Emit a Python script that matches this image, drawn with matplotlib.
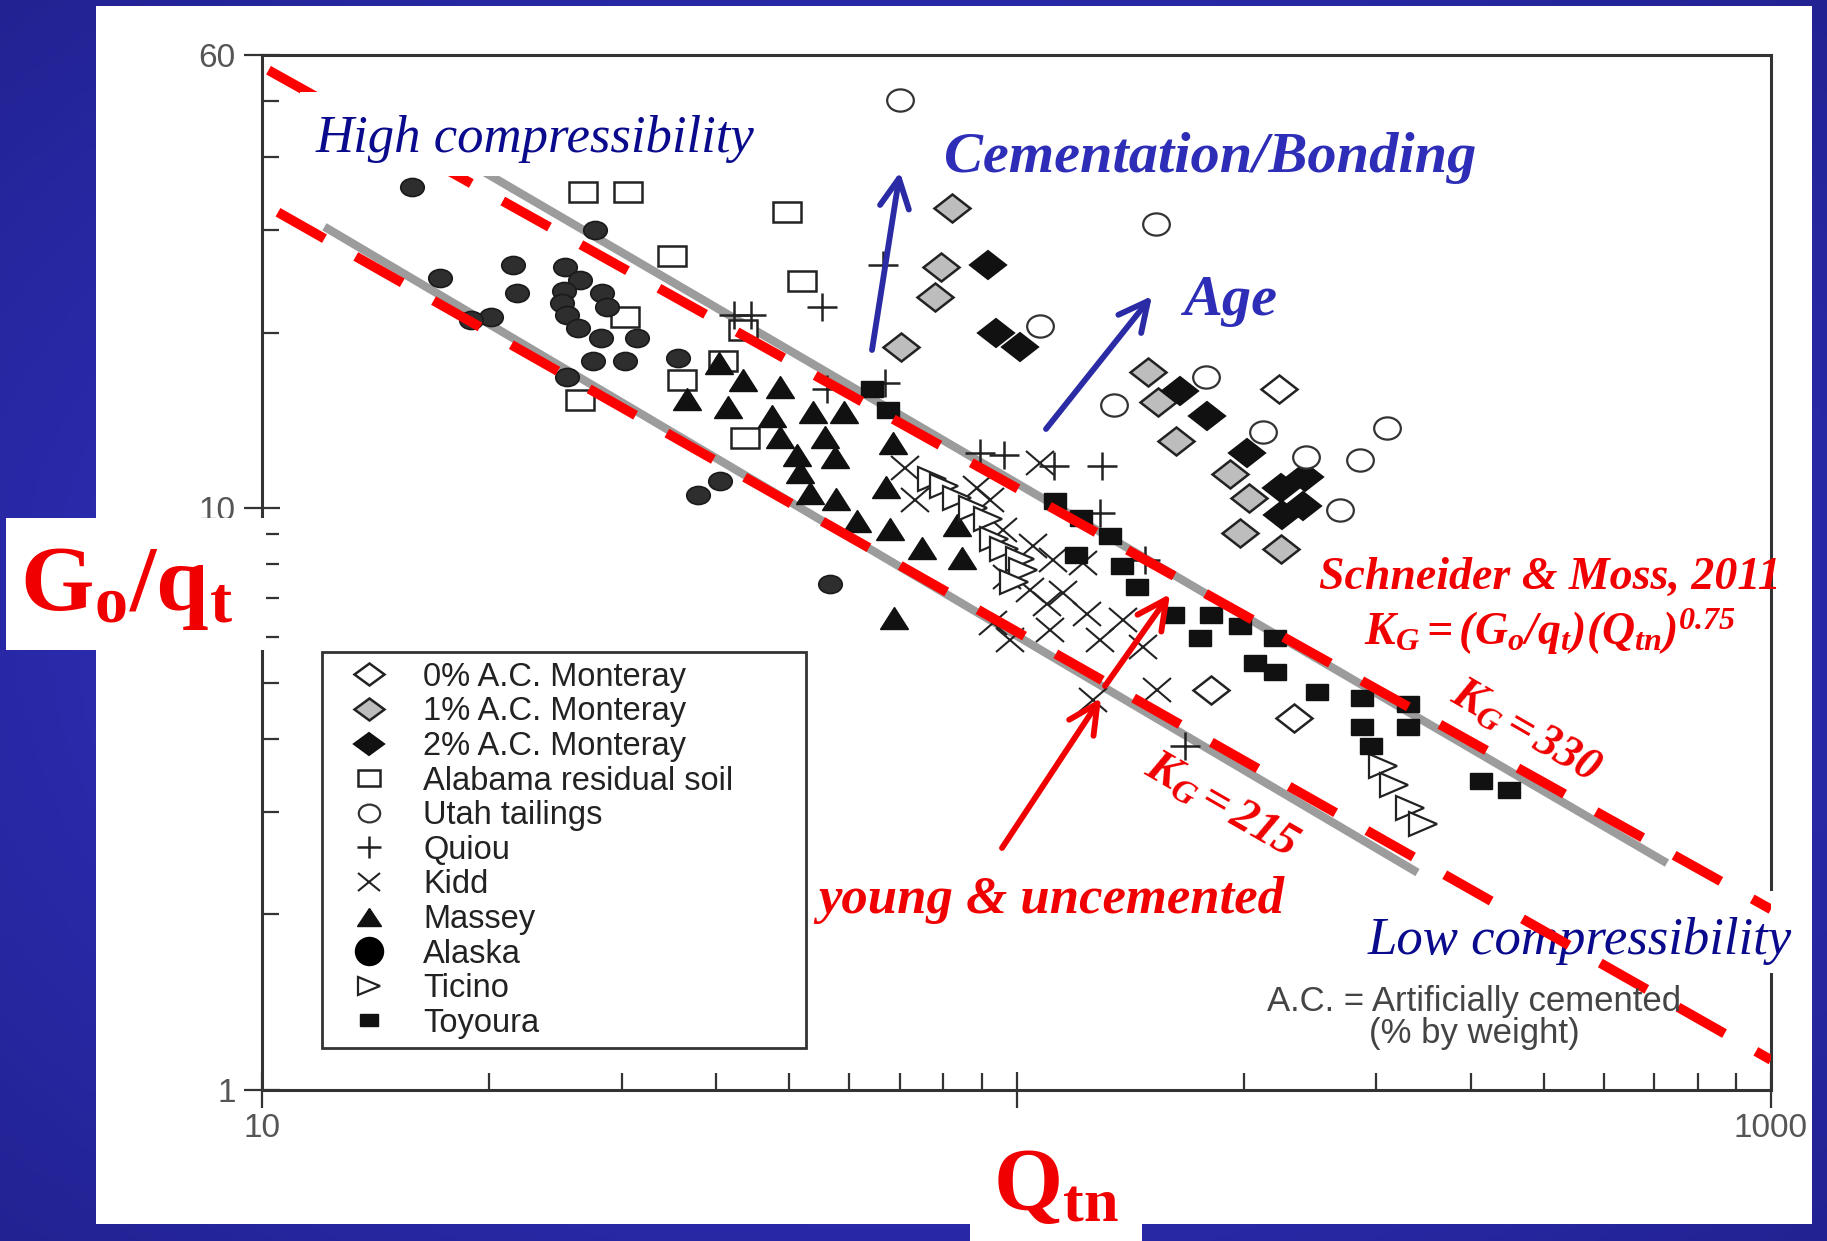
import numpy as np
import matplotlib
matplotlib.use("Agg")
import matplotlib.pyplot as plt
from matplotlib.lines import Line2D
from matplotlib.markers import MarkerStyle
from matplotlib.patches import Rectangle
from matplotlib.transforms import Affine2D
from matplotlib.ticker import LogLocator, NullFormatter

plt.rcParams['font.family'] = 'Liberation Sans'
plt.rcParams['mathtext.fontset'] = 'custom'
plt.rcParams['mathtext.rm'] = 'Liberation Serif'
plt.rcParams['mathtext.it'] = 'Liberation Serif:italic'
plt.rcParams['mathtext.bf'] = 'Liberation Serif:bold'
plt.rcParams['mathtext.bfit'] = 'Liberation Serif:italic:bold'

# ---- data: Qtn (x) and Go/qt (y) ----
ac0_q = [223, 181, 233]
ac0_g = [16.0, 4.86, 4.35]

ac1_q = [82.1, 79.5, 78.0, 70.2, 149.4, 154, 162.5, 191.9, 203, 198, 224]
ac1_g = [32.8, 25.9, 23.0, 18.9, 17.1, 15.2, 13.0, 11.45, 10.4, 9.05, 8.5]

ac2_q = [91.6, 94.0, 101, 164.7, 179, 202, 224, 241, 225, 240]
ac2_g = [26.1, 20.0, 18.9, 15.9, 14.35, 12.4, 10.8, 11.3, 9.7, 10.05]

alabama_q = [26.6, 30.6, 49.6, 35.0, 52.0, 30.3, 43.4, 40.8, 36.0, 26.4, 43.7]
alabama_g = [34.9, 34.9, 32.2, 27.1, 24.5, 21.3, 20.2, 17.9, 16.6, 15.3, 13.2]

utah_q = [70.1, 153, 107.4, 134.6, 178.3, 212, 242, 285, 310, 268]
utah_g = [50.2, 30.7, 20.5, 15.0, 16.8, 13.5, 12.2, 12.1, 13.7, 9.9]

quiou_q = [44.5, 42.2, 55.3, 66.6, 56.1, 67.0, 89.4, 96.3, 112, 130, 129, 148, 167]
quiou_g = [21.4, 21.4, 22.1, 26.1, 16.0, 16.4, 12.4, 12.3, 11.8, 11.8, 9.8, 8.13, 3.9]

kidd_q = [71.2, 73.3, 88.6, 92.2, 96.0, 105.2, 111.8, 122.5, 97.2, 104.2, 109.8,
          115.2, 124, 138.5, 147.3, 129, 110.8, 93, 98, 153.6, 126.4, 107.4]
kidd_g = [11.7, 10.3, 10.8, 10.3, 9.15, 8.6, 8.13, 8.03, 7.6, 7.22, 6.82,
          7.13, 6.56, 6.41, 5.76, 5.92, 6.16, 6.34, 5.92, 4.86, 4.67, 11.95]

massey_q = [40.3, 43.4, 48.6, 36.6, 41.4, 47.4, 53.7, 59.0, 48.6, 55.7, 51.2, 57.5,
            51.6, 53.2, 57.7, 61.5, 68.0, 68.6, 67.2, 83.4, 75.0, 84.7, 68.9]
massey_g = [17.7, 16.6, 16.1, 15.4, 14.9, 14.4, 14.6, 14.6, 13.25, 13.25, 12.3, 12.2,
            11.5, 10.6, 10.35, 9.5, 9.2, 12.9, 10.85, 9.33, 8.52, 8.2, 6.46]

alaska_q = [15.8, 27.6, 17.2, 21.5, 21.8, 20.1, 18.9, 25.2, 26.4, 25.1, 25.0, 25.4,
            26.2, 28.2, 28.7, 28.1, 31.4, 27.5, 30.3, 25.4, 35.6, 40.5, 37.8, 56.6]
alaska_g = [35.6, 30.0, 24.8, 26.1, 23.4, 21.3, 21.0, 25.9, 24.6, 23.6, 22.5, 21.4,
            20.4, 23.4, 22.1, 19.6, 19.6, 17.9, 17.9, 16.8, 18.1, 11.1, 10.5, 7.4]

ticino_q = [77.2, 80.1, 83.3, 87.6, 91.6, 93.3, 96.3, 101, 102, 99.2, 306, 316, 332, 346]
ticino_g = [11.2, 10.9, 10.4, 10.0, 9.55, 8.85, 8.5, 8.15, 7.8, 7.45, 3.6, 3.34, 3.05, 2.86]

toyoura_q = [64.3, 67.5, 112.5, 121.7, 133, 120, 138, 144.6, 161, 181, 175, 198,
             220, 207, 220, 250, 287, 330, 287, 330, 295, 413, 450]
toyoura_g = [16.0, 14.7, 10.25, 9.6, 8.95, 8.3, 7.95, 7.3, 6.55, 6.55, 5.97, 6.27,
             5.97, 5.4, 5.22, 4.82, 4.7, 4.6, 4.2, 4.2, 3.9, 3.39, 3.27]

# bounding lines (end points)
gray_upper_q = [16.0, 728]
gray_upper_g = [44.2, 2.45]
gray_lower_q = [12.1, 340]
gray_lower_g = [30.4, 2.36]
red_upper_q = [10.2, 1000]
red_upper_g = [56.5, 2.04]
red_lower_q = [10.5, 1000]
red_lower_g = [32.2, 1.124]

W, H = 1827, 1241


def fx(x):
    return x / W


def fy(y):
    return 1 - y / H


def wide(m, sx=1.3):
    return MarkerStyle(m, transform=Affine2D().scale(sx, 1.0))


fig = plt.figure(figsize=(W / 100, H / 100), dpi=100)

# blue slide background
bg = fig.add_axes([0, 0, 1, 1], zorder=-10)
yy, xx = np.mgrid[0:1:200j, 0:1:300j]
r = np.clip(np.sqrt(((xx - 0.5) / 0.75) ** 2 + ((yy - 0.5) / 0.75) ** 2), 0, 1)
c_in = np.array([0.22, 0.22, 0.84])
c_out = np.array([0.13, 0.13, 0.56])
bg.imshow(c_in + (c_out - c_in) * r[..., None], extent=[0, 1, 0, 1], aspect='auto', origin='lower')
bg.axis('off')

fig.add_artist(Rectangle((fx(96), fy(1224)), (1812 - 96) / W, (1224 - 6) / H,
                         transform=fig.transFigure, facecolor='white', edgecolor='none', zorder=-5))

ax = fig.add_axes([fx(262), fy(1089.5), (1771 - 262) / W, (1089.5 - 55) / H])
ax.set_facecolor('none')
ax.set_xscale('log')
ax.set_yscale('log')
ax.set_xlim(10, 1000)
ax.set_ylim(1, 60)

ax.plot(gray_upper_q, gray_upper_g, color='#9c9c9c', lw=6, solid_capstyle='butt', zorder=1.5)
ax.plot(gray_lower_q, gray_lower_g, color='#9c9c9c', lw=6, solid_capstyle='butt', zorder=1.5)

series = [
    ('0% A.C. Monteray', ac0_q, ac0_g, dict(marker=wide('D', 1.28), ms=14.5, mfc='white', mec='#222', mew=1.8)),
    ('1% A.C. Monteray', ac1_q, ac1_g, dict(marker=wide('D', 1.28), ms=14.5, mfc='#bdbdbd', mec='#222', mew=1.8)),
    ('2% A.C. Monteray', ac2_q, ac2_g, dict(marker=wide('D', 1.28), ms=14.5, mfc='#111', mec='#111', mew=1.5)),
    ('Alabama residual soil', alabama_q, alabama_g, dict(marker=wide('s', 1.3), ms=15, mfc='white', mec='#222', mew=1.8)),
    ('Utah tailings', utah_q, utah_g, dict(marker=wide('o', 1.2), ms=16, mfc='white', mec='#333', mew=1.6)),
    ('Quiou', quiou_q, quiou_g, dict(marker=wide('+', 1.1), ms=20, mec='#222', mew=1.8)),
    ('Kidd', kidd_q, kidd_g, dict(marker=wide('x', 1.15), ms=17, mec='#222', mew=1.5)),
    ('Massey', massey_q, massey_g, dict(marker=wide('^', 1.3), ms=16, mfc='#111', mec='#111', mew=1)),
    ('Alaska', alaska_q, alaska_g, dict(marker=wide('o', 1.3), ms=13, mfc='#2e2e2e', mec='#1a1a1a', mew=1.2)),
    ('Ticino', ticino_q, ticino_g, dict(marker=wide('>', 1.2), ms=17, mfc='white', mec='#222', mew=1.6)),
    ('Toyoura', toyoura_q, toyoura_g, dict(marker=wide('s', 1.35), ms=11.5, mfc='#111', mec='#111', mew=1)),
]

handles = []
for name, q, g, st in series:
    ax.plot(q, g, linestyle='none', zorder=3, **st)
    hst = dict(st)
    hst['ms'] = st['ms'] * 0.8
    if name == 'Alaska':
        hst['ms'] = 20
        hst['marker'] = 'o'
        hst['mfc'] = 'black'
        hst['mec'] = 'black'
    handles.append(Line2D([], [], linestyle='none', label=name, **hst))

ax.plot(red_upper_q, red_upper_g, color='#ff0000', lw=7, linestyle=(0, (5.5, 3.7)),
        dash_capstyle='butt', zorder=4)
ax.plot(red_lower_q, red_lower_g, color='#ff0000', lw=7, linestyle=(0, (5.5, 3.7)),
        dash_capstyle='butt', zorder=4)

# axes styling
for s in ax.spines.values():
    s.set_linewidth(2.2)
    s.set_color('#333333')
ax.set_xticks([10, 100, 1000])
ax.set_xticklabels(['10', '', '1000'])
ax.set_yticks([1, 10, 60])
ax.set_yticklabels(['1', '10', '60'])
ax.xaxis.set_minor_locator(LogLocator(subs=np.arange(2, 10)))
ax.yaxis.set_minor_locator(LogLocator(subs=np.arange(2, 10)))
ax.xaxis.set_minor_formatter(NullFormatter())
ax.yaxis.set_minor_formatter(NullFormatter())
ax.tick_params(which='major', direction='inout', length=26, width=1.6, color='#333',
               labelsize=24, labelcolor='#555')
ax.tick_params(which='minor', direction='in', length=12, width=1.6, color='#333')
ax.tick_params(axis='x', which='major', pad=4)
ax.tick_params(axis='y', which='major', pad=6)

leg = ax.legend(handles=handles, loc='upper left',
                bbox_to_anchor=(fx(322), fy(1046), (806 - 322) / W, (1046 - 652) / H),
                bbox_transform=fig.transFigure, mode='expand', frameon=True, fancybox=False,
                framealpha=1, edgecolor='#333', prop=dict(family='Liberation Sans', size=23.5),
                labelspacing=0.11, handlelength=2.3, handletextpad=0.5, borderpad=0.3,
                borderaxespad=0, labelcolor='#222')
leg.get_frame().set_linewidth(2)
leg.set_zorder(6)


def box(x0, y0, x1, y1, z):
    ax.add_patch(Rectangle((fx(x0), fy(y1)), (x1 - x0) / W, (y1 - y0) / H, transform=fig.transFigure,
                           facecolor='white', edgecolor='none', clip_on=False, zorder=z))


def label(x, y, s, z=7, **kw):
    ax.text(fx(x), fy(y), s, transform=fig.transFigure, ha='center', va='center', zorder=z, **kw)


serif = 'Liberation Serif'
navy = '#0a0a8c'
blue = '#2d2db8'
red = '#f00000'

# annotation boxes and texts
box(300, 92, 795, 176, 5)
label(535, 139, 'High compressibility', z=5.5, family=serif, style='italic', size=38, color=navy)
box(1346, 891, 1800, 973, 3.8)
label(1580, 941, 'Low compressibility', z=3.9, family=serif, style='italic', size=38, color=navy)

label(1210, 158, 'Cementation/Bonding', family=serif, style='italic', weight='bold', size=42, color=blue)
label(1230, 301, 'Age', family=serif, style='italic', weight='bold', size=42, color=blue)

label(1550, 578, 'Schneider & Moss, 2011', family=serif, style='italic', weight='bold', size=33, color=red)
label(1550, 632, r'$\mathbfit{K_G = (G_o/q_t)(Q_{tn})^{0.75}}$', size=33, color=red)
label(1526, 732, r'$\mathbfit{K_G = 330}$', size=33, color=red, rotation=-30)
label(1221, 806, r'$\mathbfit{K_G = 215}$', size=34, color=red, rotation=-30)
label(1051, 900, 'young & uncemented', family=serif, style='italic', weight='bold', size=38, color=red)

label(1474, 1001, 'A.C. = Artificially cemented', size=25, color='#444')
label(1474, 1033, '(% by weight)', size=25, color='#444')

# axis titles on white boxes
box(6, 518, 266, 650, 8)
label(126, 588, r'$\mathbf{G_o/q_t}$', z=9, size=68, color=red)
box(970, 1154, 1142, 1241, 8)
label(1056, 1186, r'$\mathbf{Q_{tn}}$', z=9, size=64, color=red)


def arrow(x0, y0, x1, y1, color, lw):
    ax.annotate('', xy=(fx(x1), fy(y1)), xytext=(fx(x0), fy(y0)),
                xycoords='figure fraction', textcoords='figure fraction',
                arrowprops=dict(arrowstyle='->,head_length=0.7,head_width=0.35', color=color,
                                lw=lw, mutation_scale=30, shrinkA=0, shrinkB=0),
                zorder=7, annotation_clip=False)


arrow(872, 350, 900, 172, '#2b2ba6', 4.2)
arrow(1046, 429, 1152, 296, '#2b2ba6', 4.2)
arrow(1002, 848, 1101, 698, red, 4.2)
arrow(1105, 686, 1170, 594, red, 4.2)

fig.savefig('out.png', dpi=100)
